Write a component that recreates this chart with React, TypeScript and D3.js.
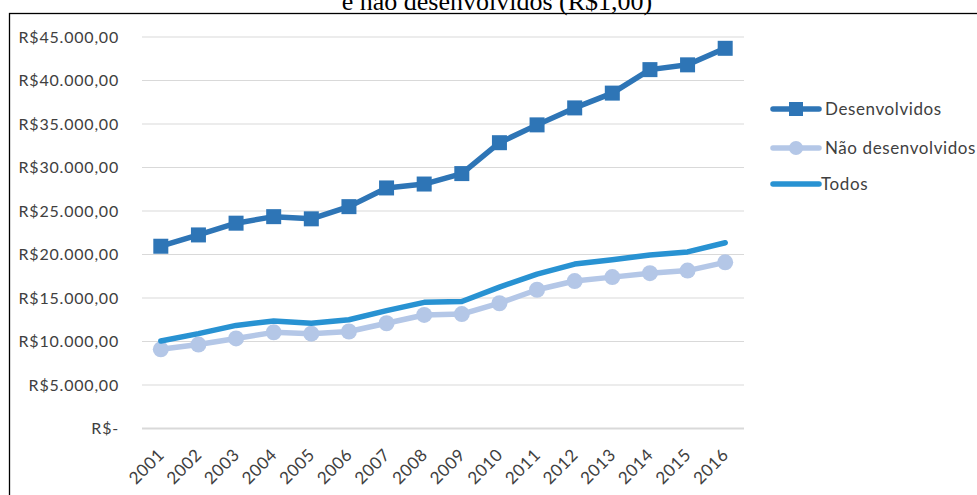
import React from "react";
import * as d3 from "d3";

const years = ["2001","2002","2003","2004","2005","2006","2007","2008","2009","2010","2011","2012","2013","2014","2015","2016"];
const desenvolvidos = [20950, 22250, 23600, 24350, 24100, 25500, 27650, 28100, 29300, 32850, 34900, 36850, 38550, 41250, 41800, 43700];
const naoDesenvolvidos = [9100, 9650, 10350, 11050, 10900, 11150, 12100, 13050, 13150, 14400, 15950, 16950, 17400, 17850, 18150, 19100];
const todos = [10050, 10900, 11850, 12350, 12100, 12500, 13550, 14500, 14600, 16250, 17750, 18900, 19400, 19950, 20300, 21350];
const yTicks = [0, 5000, 10000, 15000, 20000, 25000, 30000, 35000, 40000, 45000];
const titleLine = "e não desenvolvidos (R$1,00)";

const W = 977;
const H = 495;
const FONT = "Lato, 'Open Sans', sans-serif";

const fmt = (v: number) => {
  if (v === 0) return "R$-";
  const s = Math.round(v).toString().replace(/\B(?=(\d{3})+(?!\d))/g, ".");
  return `R$${s},00`;
};

export default function App() {
  const x = d3.scalePoint<string>().domain(years).range([142, 744]).padding(0.5);
  const y = d3.scaleLinear().domain([0, 45000]).range([428.5, 37]);

  const line = d3
    .line<number>()
    .x((_, i) => x(years[i]) as number)
    .y((d) => y(d));

  const series = [
    { name: "Desenvolvidos", data: desenvolvidos, color: "#2E75B6", marker: "square" },
    { name: "Não desenvolvidos", data: naoDesenvolvidos, color: "#B4C7E7", marker: "circle" },
    { name: "Todos", data: todos, color: "#2892D2", marker: "none" },
  ];

  const legendY = [109, 148, 184];

  return (
    <svg
      width={W}
      height={H}
      style={{ position: "absolute", left: 0, top: 0, background: "#fff" }}
    >
      <rect x={0} y={0} width={W} height={H} fill="#fff" />
      <text
        x={497}
        y={9.5}
        textAnchor="middle"
        fontFamily="'Liberation Serif', 'Times New Roman', serif"
        fontSize={26}
        fill="#000"
      >
        {titleLine}
      </text>
      <rect x={9.5} y={13.5} width={W + 10} height={H + 10} fill="none" stroke="#000" strokeWidth={1.3} />

      {/* gridlines */}
      {yTicks.map((t) => (
        <line
          key={t}
          x1={142}
          x2={744}
          y1={y(t)}
          y2={y(t)}
          stroke="#D9D9D9"
          strokeWidth={t === 0 ? 2 : 1}
        />
      ))}

      {/* y axis labels */}
      {yTicks.map((t) => (
        <text
          key={t}
          x={119}
          y={y(t)}
          dy="0.35em"
          textAnchor="end"
          fontFamily={FONT}
          fontSize={16}
          letterSpacing={0.8}
          fill="#404040"
        >
          {fmt(t)}
        </text>
      ))}

      {/* x axis labels */}
      {years.map((yr) => (
        <text
          key={yr}
          transform={`translate(${(x(yr) as number) + 4.5},${456}) rotate(-45)`}
          textAnchor="end"
          fontFamily={FONT}
          fontSize={17}
          letterSpacing={0.5}
          fill="#404040"
        >
          {yr}
        </text>
      ))}

      {/* series */}
      {series.map((s) => (
        <g key={s.name}>
          <path
            d={line(s.data) || ""}
            fill="none"
            stroke={s.color}
            strokeWidth={5.5}
            strokeLinejoin="round"
            strokeLinecap="round"
          />
          {s.data.map((v, i) => {
            const cx = x(years[i]) as number;
            const cy = y(v);
            if (s.marker === "square")
              return <rect key={i} x={cx - 7.5} y={cy - 7.5} width={15} height={15} fill={s.color} />;
            if (s.marker === "circle")
              return <circle key={i} cx={cx} cy={cy} r={8} fill={s.color} />;
            return null;
          })}
        </g>
      ))}

      {/* legend */}
      {series.map((s, i) => (
        <g key={s.name} transform={`translate(0,${legendY[i]})`}>
          <line x1={773} x2={819} y1={0} y2={0} stroke={s.color} strokeWidth={5.5} strokeLinecap="round" />
          {s.marker === "square" && <rect x={789} y={-7} width={14} height={14} fill={s.color} />}
          {s.marker === "circle" && <circle cx={796} cy={0} r={7} fill={s.color} />}
          <text
            x={s.marker === "none" ? 821 : 825}
            y={0}
            dy="0.35em"
            fontFamily={FONT}
            fontSize={17}
            letterSpacing={0.6}
            fill="#404040"
          >
            {s.name}
          </text>
        </g>
      ))}
    </svg>
  );
}
